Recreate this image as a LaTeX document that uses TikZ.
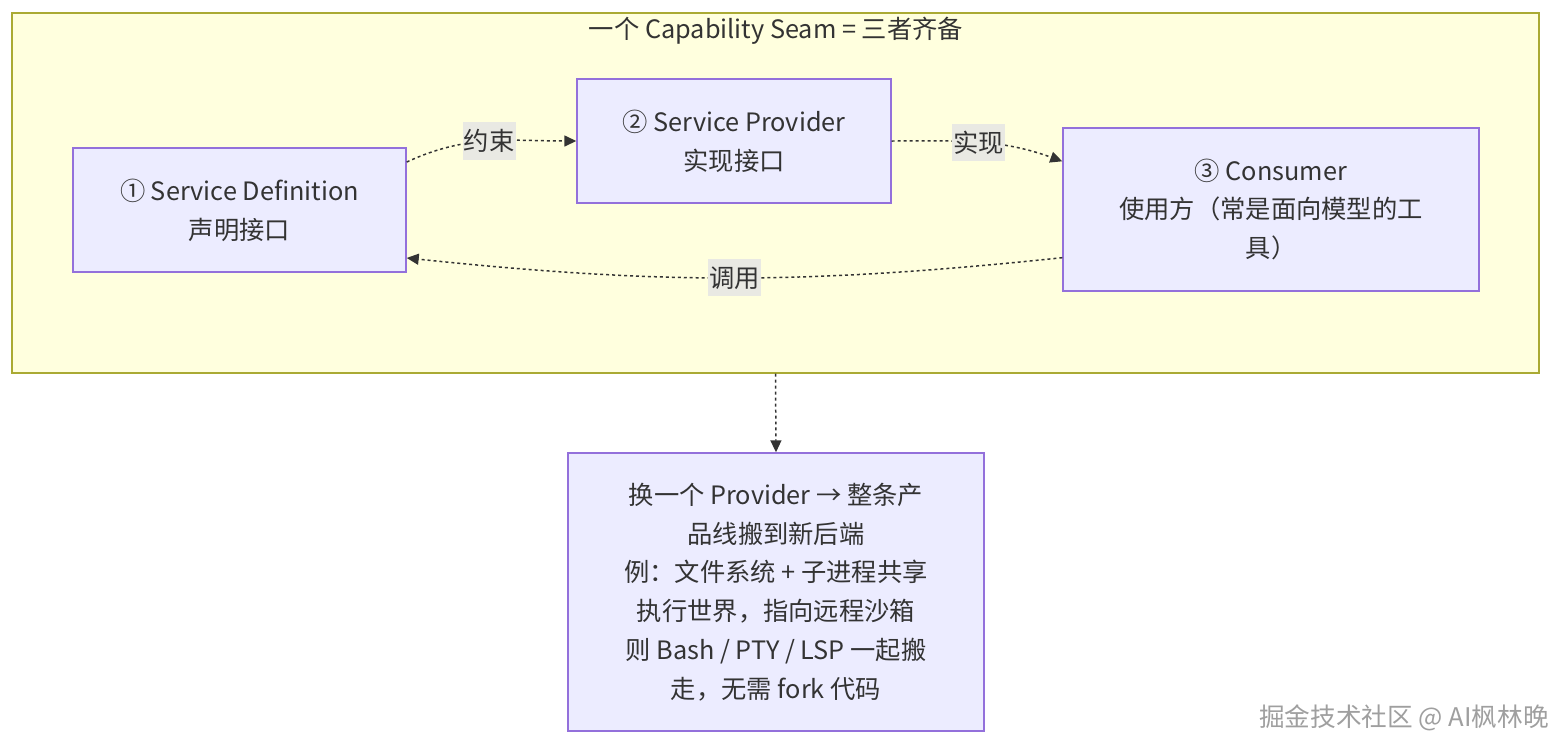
\documentclass[tikz,border=0pt]{standalone}
\usepackage{fontspec}
\setmainfont{Noto Sans CJK SC}
\usetikzlibrary{arrows.meta,positioning}
\definecolor{seamfill}{HTML}{FFFFDE}
\definecolor{seamline}{HTML}{AAAA33}
\definecolor{blockfill}{HTML}{ECECFF}
\definecolor{blockline}{HTML}{9370DB}
\definecolor{ink}{HTML}{333333}
\definecolor{labfill}{HTML}{E9E9E3}

\begin{document}
\begin{tikzpicture}[
    x=0.02cm, y=0.02cm,
    every node/.style={font=\fontsize{14.4pt}{22.1pt}\selectfont, text=ink},
    seam/.style={draw=seamline, fill=seamfill, line width=0.85pt, minimum width=30.54cm, minimum height=7.2cm, inner sep=0pt},
    block/.style={draw=blockline, fill=blockfill, line width=0.85pt, align=center, inner sep=0pt},
    flow/.style={-{Triangle[length=0.24cm, width=0.22cm]}, ink, line width=0.85pt, dash pattern=on 1.7pt off 1.7pt},
    lab/.style={fill=labfill, inner xsep=0.6pt, inner ysep=4pt},
    credit/.style={font=\fontsize{14.6pt}{16pt}\selectfont, text=gray!75}
  ]
    \useasboundingbox (0,0) rectangle (1568,-754);

    \node[seam] (seam) at (775.5,-193) {};
    \node (seamtitle) at (776,-31) {一个 Capability Seam = 三者齐备};

    \node[block, minimum width=6.66cm, minimum height=2.48cm] (def)  at (239.5,-210) {① Service Definition\\声明接口};
    \node[block, minimum width=6.28cm, minimum height=2.48cm] (prov) at (734,-141)   {② Service Provider\\实现接口};
    \node[block, minimum width=8.32cm, minimum height=3.26cm] (cons) at (1271,-209.5) {③ Consumer\\使用方（常是面向模型的工\\具）};

    \node[block, minimum width=8.32cm, minimum height=5.56cm] (swap) at (776,-592) {换一个 Provider → 整条产\\品线搬到新后端\\例：文件系统 + 子进程共享\\执行世界，指向远程沙箱\\则 Bash / PTY / LSP 一起搬\\走，无需 fork 代码};

    \node[credit] (credit) at (1404,-718) {掘金技术社区 @ AI枫林晚};

    \draw[flow] (def.16) to[out=25,in=180] node[lab]{约束} (prov.west);
    \draw[flow] (prov.east) to[out=0,in=160] node[lab]{实现} (cons.167);
    \draw[flow] (cons.193) to[out=186,in=-6] node[lab]{调用} (def.-16);
    \draw[flow] (seam.south) -- (swap.north);
  \end{tikzpicture}
\end{document}
